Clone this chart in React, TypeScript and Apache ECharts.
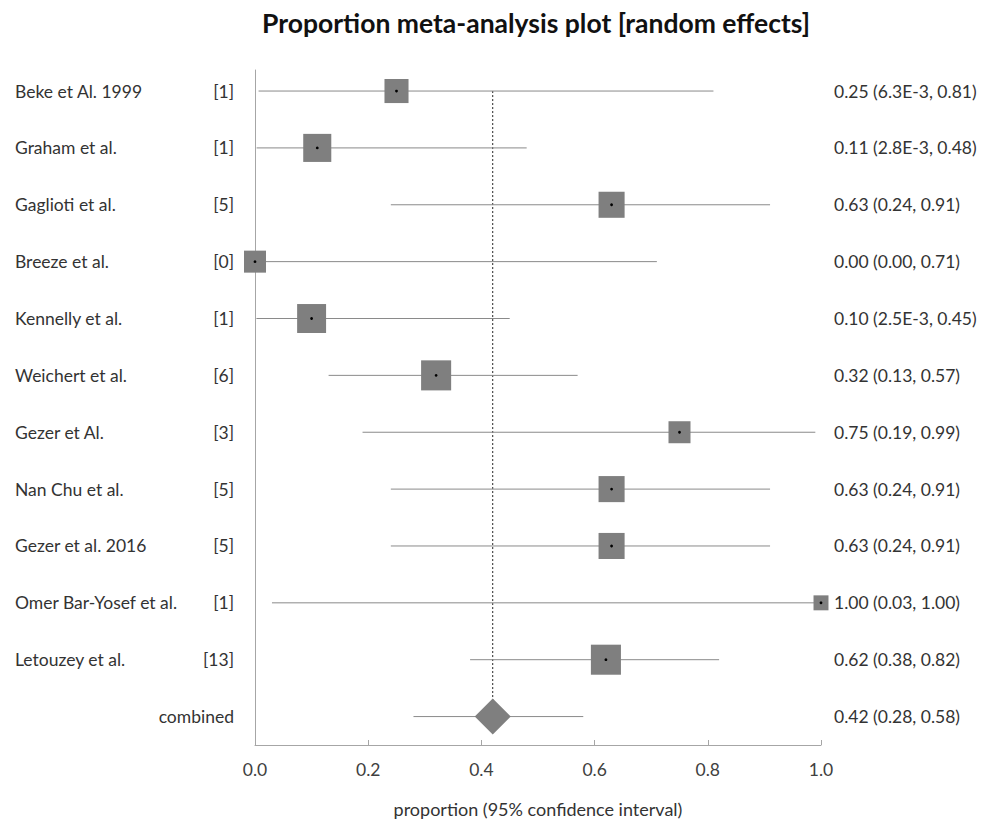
import React, { useEffect, useRef } from "react";
import * as echarts from "echarts";

const studies = [
  "Beke et Al. 1999",
  "Graham et al.",
  "Gaglioti et al.",
  "Breeze et al.",
  "Kennelly et al.",
  "Weichert et al.",
  "Gezer et Al.",
  "Nan Chu et al.",
  "Gezer et al. 2016",
  "Omer Bar-Yosef et al.",
  "Letouzey et al.",
];
const events = [1, 1, 5, 0, 1, 6, 3, 5, 5, 1, 13];
const estimates = [0.25, 0.11, 0.63, 0.0, 0.1, 0.32, 0.75, 0.63, 0.63, 1.0, 0.62];
const lower = [0.0063, 0.0028, 0.24, 0.0, 0.0025, 0.13, 0.19, 0.24, 0.24, 0.03, 0.38];
const upper = [0.81, 0.48, 0.91, 0.71, 0.45, 0.57, 0.99, 0.91, 0.91, 1.0, 0.82];
const ciText = [
  "0.25 (6.3E-3, 0.81)",
  "0.11 (2.8E-3, 0.48)",
  "0.63 (0.24, 0.91)",
  "0.00 (0.00, 0.71)",
  "0.10 (2.5E-3, 0.45)",
  "0.32 (0.13, 0.57)",
  "0.75 (0.19, 0.99)",
  "0.63 (0.24, 0.91)",
  "0.63 (0.24, 0.91)",
  "1.00 (0.03, 1.00)",
  "0.62 (0.38, 0.82)",
];
// relative weights (%) shown by marker area
const weights = [8.0, 10.9, 9.4, 6.7, 11.6, 12.5, 6.7, 9.4, 9.4, 3.1, 12.5];

const combinedLabel = "combined";
const combinedEst = 0.42;
const combinedLower = 0.28;
const combinedUpper = 0.58;
const combinedText = "0.42 (0.28, 0.58)";

const xTicks = [0, 0.2, 0.4, 0.6, 0.8, 1.0];

const FONT = "Lato, 'Open Sans', sans-serif";
const TEXT_COLOR = "#333";
const FS = 17.5;

export default function App() {
  const ref = useRef<HTMLDivElement>(null);

  useEffect(() => {
    if (!ref.current) return;
    const chart = echarts.init(ref.current, null, { renderer: "svg" });
    const nRows = studies.length + 1;
    const studyData = studies.map((name, i) => [
      estimates[i],
      lower[i],
      upper[i],
      nRows - 1 - i,
      weights[i],
      i,
    ]);

    const rowTexts = (y: number, name: string, bracket: string, right: string, nameAlign: string) => {
      const arr: any[] = [];
      const font = `${FS}px ${FONT}`;
      arr.push({
        type: "text",
        x: nameAlign === "left" ? 15 : 234,
        y,
        style: { text: name, fill: TEXT_COLOR, font, align: nameAlign, verticalAlign: "middle" },
      });
      if (bracket) {
        arr.push({
          type: "text",
          x: 234,
          y,
          style: { text: bracket, fill: TEXT_COLOR, font, align: "right", verticalAlign: "middle" },
        });
      }
      arr.push({
        type: "text",
        x: 834,
        y,
        style: { text: right, fill: TEXT_COLOR, font, align: "left", verticalAlign: "middle" },
      });
      return arr;
    };

    const option: any = {
      animation: false,
      backgroundColor: "#ffffff",
      title: {
        text: "Proportion meta-analysis plot [random effects]",
        left: 531,
        top: 4,
        textAlign: "center",
        textStyle: { fontFamily: FONT, fontWeight: "bold", fontSize: 26.5, color: "#111" },
      },
      grid: { left: 255, right: 166, top: 70, bottom: 88, containLabel: false },
      xAxis: {
        type: "value",
        min: 0,
        max: 1,
        interval: 0.2,
        name: "proportion (95% confidence interval)",
        nameLocation: "middle",
        nameGap: 55,
        nameTextStyle: { fontFamily: FONT, fontSize: 18, color: TEXT_COLOR },
        axisLine: { show: true, onZero: false, lineStyle: { color: "#a6a6a6", width: 1 } },
        axisTick: { show: true, inside: true, length: 5, lineStyle: { color: "#a6a6a6" } },
        axisLabel: {
          margin: 15,
          fontFamily: FONT,
          fontSize: FS,
          color: "#404040",
          formatter: (v: number) => (xTicks.some((t) => Math.abs(t - v) < 1e-9) ? v.toFixed(1) : ""),
        },
        splitLine: { show: false },
      },
      yAxis: {
        type: "value",
        min: -0.5,
        max: 11.37,
        axisLine: { show: true, onZero: false, lineStyle: { color: "#a6a6a6", width: 1 } },
        axisTick: { show: false },
        axisLabel: { show: false },
        splitLine: { show: false },
      },
      series: [
        {
          type: "line",
          data: [
            [combinedEst, nRows - 1],
            [combinedEst, 0],
          ],
          symbol: "none",
          lineStyle: { color: "#222", width: 1, type: [2, 2] },
          z: 1,
          silent: true,
        },
        {
          type: "custom",
          z: 2,
          clip: false,
          data: studyData,
          renderItem: (params: any, api: any) => {
            const est = api.value(0);
            const lo = api.value(1);
            const hi = api.value(2);
            const row = api.value(3);
            const w = api.value(4);
            const idx = api.value(5);
            const pE = api.coord([est, row]);
            const pL = api.coord([lo, row]);
            const pH = api.coord([hi, row]);
            const s = Math.sqrt(w) * 8.5;
            return {
              type: "group",
              children: [
                {
                  type: "line",
                  shape: { x1: pL[0], y1: pL[1], x2: pH[0], y2: pH[1] },
                  style: { stroke: "#8a8a8a", lineWidth: 1 },
                },
                {
                  type: "rect",
                  shape: { x: pE[0] - s / 2, y: pE[1] - s / 2, width: s, height: s },
                  style: { fill: "#7f7f7f" },
                },
                {
                  type: "circle",
                  shape: { cx: pE[0], cy: pE[1], r: 1.4 },
                  style: { fill: "#000" },
                },
                ...rowTexts(pE[1], studies[idx], `[${events[idx]}]`, ciText[idx], "left"),
              ],
            };
          },
        },
        {
          type: "custom",
          z: 3,
          clip: false,
          data: [[combinedEst, combinedLower, combinedUpper, 0]],
          renderItem: (params: any, api: any) => {
            const row = api.value(3);
            const pE = api.coord([api.value(0), row]);
            const pL = api.coord([api.value(1), row]);
            const pH = api.coord([api.value(2), row]);
            const h = 18;
            return {
              type: "group",
              children: [
                {
                  type: "line",
                  shape: { x1: pL[0], y1: pL[1], x2: pH[0], y2: pH[1] },
                  style: { stroke: "#8a8a8a", lineWidth: 1 },
                },
                {
                  type: "polygon",
                  shape: {
                    points: [
                      [pE[0], pE[1] - h],
                      [pE[0] + h, pE[1]],
                      [pE[0], pE[1] + h],
                      [pE[0] - h, pE[1]],
                    ],
                  },
                  style: { fill: "#7f7f7f" },
                },
                ...rowTexts(pE[1], combinedLabel, "", combinedText, "right"),
              ],
            };
          },
        },
      ],
    };
    chart.setOption(option);
    return () => chart.dispose();
  }, []);

  return (
    <div
      ref={ref}
      style={{ position: "fixed", left: 0, top: 0, width: 987, height: 833, background: "#fff" }}
    />
  );
}
